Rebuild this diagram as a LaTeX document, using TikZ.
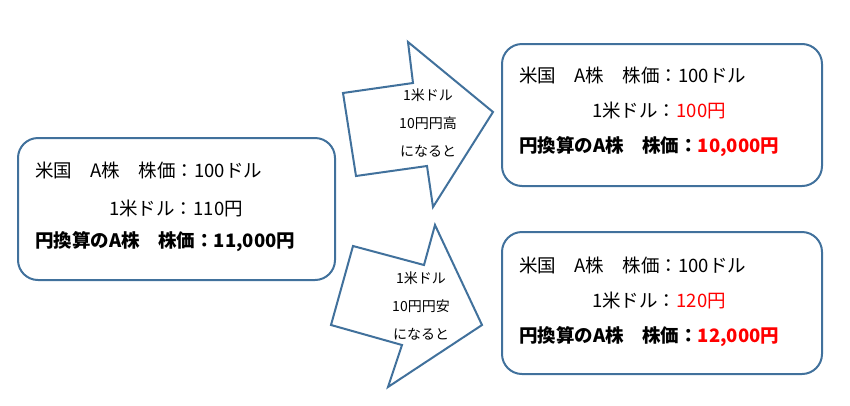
\documentclass[tikz,border=0pt]{standalone}
\usepackage{fontspec}
\setmainfont{Noto Sans CJK JP}
\definecolor{bl}{RGB}{65,113,156}
\begin{document}
\begin{tikzpicture}[x=1pt,y=-1pt,
  box/.style={draw=bl,line width=2pt,rounded corners=20pt},
  arr/.style={draw=bl,line width=2pt,line join=miter,fill=white},
  t/.style={anchor=west,font=\fontsize{18.5}{22}\selectfont,inner sep=0},
  tb/.style={t,font=\fontsize{18.5}{22}\selectfont\bfseries},
  atxt/.style={font=\fontsize{14}{16}\selectfont,inner sep=0}]
\useasboundingbox (0,0) rectangle (850,405);
\draw[box] (18,138) rectangle (335,280);
\draw[box] (502,44) rectangle (822,186);
\draw[box] (502,232) rectangle (822,374);
\draw[arr] (408,42) -- (413,83) -- (343,93) -- (356,176) -- (427,166) -- (433,207) -- (493,112) -- cycle;
\draw[arr] (435,225) -- (424,265) -- (353,246) -- (331,325) -- (402,345) -- (388,387) -- (482,325) -- cycle;
\node[atxt] (u1) at (428,95) {1米ドル};
\node[atxt] (u2) at (428,123) {10円円高};
\node[atxt] (u3) at (428,151) {になると};
\node[atxt] (d1) at (421,278) {1米ドル};
\node[atxt] (d2) at (421,306) {10円円安};
\node[atxt] (d3) at (421,334) {になると};
\node[t] (l1) at (35,170) {米国\quad A株\quad 株価：100ドル};
\node[t] (l2) at (109,208) {1米ドル：110円};
\node[tb] (l3) at (35,242) {円換算のA株\quad 株価：11,000円};
\node[t] (a1) at (519,75) {米国\quad A株\quad 株価：100ドル};
\node[t] (a2) at (592,110) {1米ドル：\textcolor{red}{100円}};
\node[tb] (a3) at (519,147) {円換算のA株\quad 株価：\textcolor{red}{10,000円}};
\node[t] (b1) at (519,265) {米国\quad A株\quad 株価：100ドル};
\node[t] (b2) at (592,300) {1米ドル：\textcolor{red}{120円}};
\node[tb] (b3) at (519,337) {円換算のA株\quad 株価：\textcolor{red}{12,000円}};
\end{tikzpicture}
\end{document}
